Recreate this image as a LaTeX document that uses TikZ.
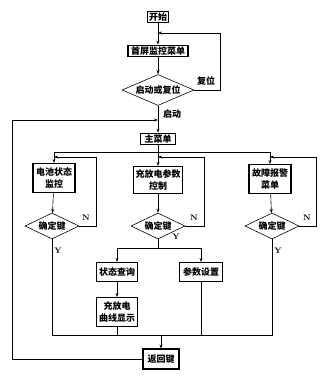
\documentclass[tikz,border=0pt]{standalone}
\usepackage{fontspec}
\newfontfamily\cjk{Noto Sans CJK SC}
\usetikzlibrary{arrows.meta, positioning, shapes.geometric, calc}

\begin{document}
\begin{tikzpicture}[
    x=1pt, y=-1pt, >={Stealth[length=4pt,width=3pt]},
    line width=0.6pt,
    box/.style={draw, line width=1.1pt, inner xsep=1.5pt, inner ysep=1.5pt,
                font=\cjk\bfseries\fontsize{9}{12}\selectfont,
                align=center},
    decision/.style={draw, diamond, aspect=2.2, inner sep=0pt,
                     font=\cjk\bfseries\fontsize{9}{10}\selectfont,
                     minimum width=54pt, minimum height=26pt},
    lbl/.style={font=\cjk\bfseries\fontsize{9}{10}\selectfont},
    yn/.style={font=\bfseries\fontsize{8}{9}\selectfont}
  ]
  \useasboundingbox (0,0) rectangle (328,383);

  % top part
  \node[box] (start) at (158,17) {开始};
  \node[box, minimum width=60pt] (home) at (158,51) {首屏监控菜单};
  \node[decision, minimum width=72pt, minimum height=31pt] (boot)
    at (158,90) {启动或复位};
  \node[box, minimum width=35pt] (main) at (158,139) {主菜单};

  % three menus
  \node[box, minimum width=42pt, minimum height=29pt] (bat) at (54,178)
    {电池状态\\监控};
  \node[box, minimum width=49pt, minimum height=27pt] (chg) at (158,180)
    {充放电参数\\控制};
  \node[box, minimum width=42pt, minimum height=29pt] (fault) at (270,179)
    {故障报警\\菜单};
  \node[decision] (okA) at (52,226) {确定键};
  \node[decision] (okB) at (158,226) {确定键};
  \node[decision] (okC) at (272,226) {确定键};

  % sub items
  \node[box, minimum width=41pt, minimum height=19pt] (query) at (117,272)
    {状态查询};
  \node[box, minimum width=43pt, minimum height=19pt] (param) at (201,272)
    {参数设置};
  \node[box, minimum width=41pt, minimum height=29pt] (curve) at (117,312)
    {充放电\\曲线显示};
  \node[box, minimum width=36pt, minimum height=20pt] (back) at (161,359)
    {返回键};

  \coordinate (resetT) at (0,33);
  \coordinate (loopM) at (0,120);
  \coordinate (busT) at (0,152);
  \coordinate (loopT) at (0,157);
  \coordinate (busM) at (0,248);
  \coordinate (busB) at (0,335);

  \draw[->] (start) -- (home);
  \draw[->] (home) -- (boot);
  \draw[->] (boot.east) -- ++(26,0) |- (home.north |- resetT);
  \node[lbl] at (206,81) {复位};
  \draw[->] (boot.south) -- (main.north);
  \node[lbl] at (172,114) {启动};

  % main menu bus
  \draw[->] (main.south) -- (main.south |- busT) -| (bat.north);
  \draw[->] (main.south |- busT) -| (fault.north);
  \draw[->] (main.south) -- (chg.north);
  \draw[->] (bat) -- (okA);
  \draw[->] (chg) -- (okB);
  \draw[->] (fault) -- (okC);

  % N loops
  \draw[->] (okA.east) -- ++(17,0) |- (bat.north |- loopT);
  \draw[->] (okB.east) -- ++(19,0) |- (chg.north |- loopT);
  \draw[->] (okC.east) -- ++(17,0) |- (fault.north |- loopT);
  \node[yn] at (86,218) {N};
  \node[yn] at (194,218) {N};
  \node[yn] at (307,218) {N};

  % Y branches
  \draw (okB.south) -- (okB.south |- busM);
  \draw[->] (okB.south |- busM) -| (query.north);
  \draw[->] (okB.south |- busM) -| (param.north);
  \draw[->] (query) -- (curve);
  \node[yn] at (58,251) {Y};
  \node[yn] at (176,237) {Y};
  \node[yn] at (278,251) {Y};

  % bottom bus
  \draw (okA.south) -- (okA.south |- busB) -- (okC.south |- busB)
    -- (okC.south);
  \draw (curve.south) -- (curve.south |- busB);
  \draw (param.south) -- (param.south |- busB);
  \draw[->] (back.north |- busB) -- (back.north);
  \draw[->] (back.west) -- ++(-130,0) |- (main.north |- loopM);
\end{tikzpicture}
\end{document}
